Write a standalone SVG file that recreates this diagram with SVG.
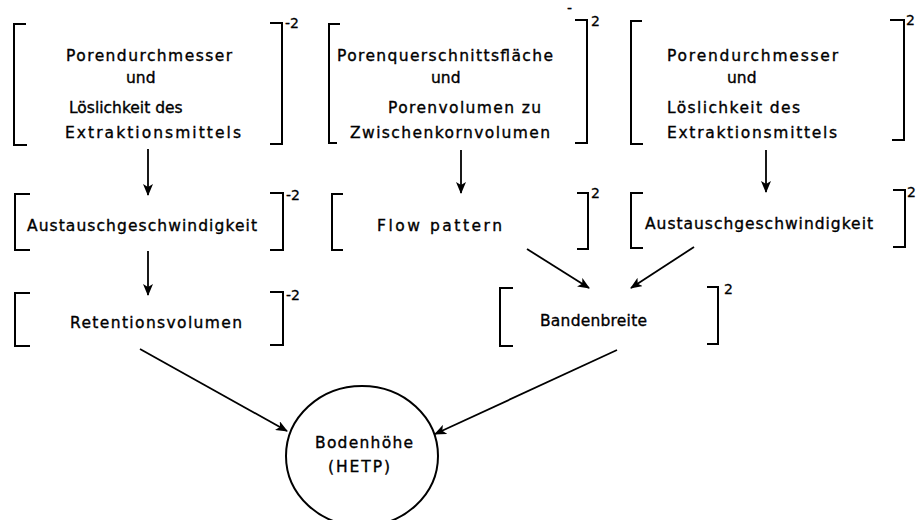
<svg xmlns="http://www.w3.org/2000/svg" width="917" height="520" viewBox="0 0 917 520">
<style>
  .t { font-family: "DejaVu Sans", "Liberation Sans", sans-serif; font-size: 15.5px; fill: #000; stroke: #000; stroke-width: 0.35; }
  .s { font-family: "DejaVu Sans", "Liberation Sans", sans-serif; font-size: 14px; fill: #000; stroke: #000; stroke-width: 0.3; }
  .br { fill: none; stroke: #000; stroke-width: 2; stroke-linejoin: miter; }
  .ln { fill: none; stroke: #000; stroke-width: 1.8; }
</style>
<defs>
  <marker id="ah" viewBox="0 0 12 10" refX="11" refY="5" markerWidth="12" markerHeight="10" markerUnits="userSpaceOnUse" orient="auto">
    <path d="M0,0 L12,5 L0,10 L3,5 Z" fill="#000"/>
  </marker>
</defs>
<rect width="917" height="520" fill="#fff"/>

<g id="n1">
  <path class="br" d="M26,24 H14 V145 H27"/>
  <path class="br" d="M270,23 H282 V144 H270"/>
  <text class="s" x="285" y="28">-2</text>
  <text class="t" x="66" y="61" textLength="166">Porendurchmesser</text>
  <text class="t" x="126" y="83">und</text>
  <text class="t" x="69" y="113">Löslichkeit des</text>
  <text class="t" x="65" y="138" textLength="176">Extraktionsmittels</text>
</g>

<g id="n2">
  <path class="br" d="M340,24 H329 V143 H337"/>
  <path class="br" d="M575,20 H587 V143 H575"/>
  <text class="s" x="567" y="13">-</text>
  <text class="s" x="591" y="26">2</text>
  <text class="t" x="337" y="61" textLength="216">Porenquerschnittsfläche</text>
  <text class="t" x="431" y="83">und</text>
  <text class="t" x="388" y="113" textLength="153">Porenvolumen zu</text>
  <text class="t" x="350" y="138" textLength="200">Zwischenkornvolumen</text>
</g>

<g id="n3">
  <path class="br" d="M642,21 H631 V144 H643"/>
  <path class="br" d="M890,20 H904 V140 H892"/>
  <text class="s" x="906" y="25">2</text>
  <text class="t" x="667" y="61" textLength="171">Porendurchmesser</text>
  <text class="t" x="727" y="83">und</text>
  <text class="t" x="667" y="113" textLength="133">Löslichkeit des</text>
  <text class="t" x="667" y="138" textLength="170">Extraktionsmittels</text>
</g>

<g id="n4">
  <path class="br" d="M30,194 H15 V250 H30"/>
  <path class="br" d="M270,193 H283 V250 H270"/>
  <text class="s" x="286" y="200">-2</text>
  <text class="t" x="27" y="231" textLength="230">Austauschgeschwindigkeit</text>
</g>

<g id="n5">
  <path class="br" d="M343,194 H332 V250 H343"/>
  <path class="br" d="M577,193 H588 V249 H577"/>
  <text class="s" x="591" y="198">2</text>
  <text class="t" x="377" y="231" textLength="125">Flow pattern</text>
</g>

<g id="n6">
  <path class="br" d="M643,193 H631 V248 H643"/>
  <path class="br" d="M893,190 H905 V247 H893"/>
  <text class="s" x="907" y="197">2</text>
  <text class="t" x="645" y="229" textLength="228">Austauschgeschwindigkeit</text>
</g>

<g id="n7">
  <path class="br" d="M30,293 H15 V346 H30"/>
  <path class="br" d="M270,292 H283 V345 H270"/>
  <text class="s" x="286" y="300">-2</text>
  <text class="t" x="70" y="328" textLength="172">Retentionsvolumen</text>
</g>

<g id="n8">
  <path class="br" d="M513,288 H500 V346 H513"/>
  <path class="br" d="M707,287 H718 V344 H707"/>
  <text class="s" x="724" y="294">2</text>
  <text class="t" x="540" y="326" textLength="107">Bandenbreite</text>
</g>

<g id="n9">
  <ellipse cx="362" cy="456" rx="76" ry="70" fill="none" stroke="#000" stroke-width="2"/>
  <text class="t" x="315" y="448" textLength="98">Bodenhöhe</text>
  <text class="t" x="328" y="472" textLength="62">(HETP)</text>
</g>

<g id="connectors">
  <line class="ln" x1="148" y1="149" x2="148" y2="195" marker-end="url(#ah)"/>
  <line class="ln" x1="148" y1="251" x2="148" y2="295" marker-end="url(#ah)"/>
  <line class="ln" x1="461" y1="150" x2="461" y2="193" marker-end="url(#ah)"/>
  <line class="ln" x1="766" y1="150" x2="766" y2="192" marker-end="url(#ah)"/>
  <line class="ln" x1="527" y1="249" x2="589" y2="288" marker-end="url(#ah)"/>
  <line class="ln" x1="694" y1="247" x2="631" y2="288" marker-end="url(#ah)"/>
  <line class="ln" x1="140" y1="349" x2="287" y2="431" marker-end="url(#ah)"/>
  <line class="ln" x1="617" y1="350" x2="435" y2="434" marker-end="url(#ah)"/>
</g>
</svg>
